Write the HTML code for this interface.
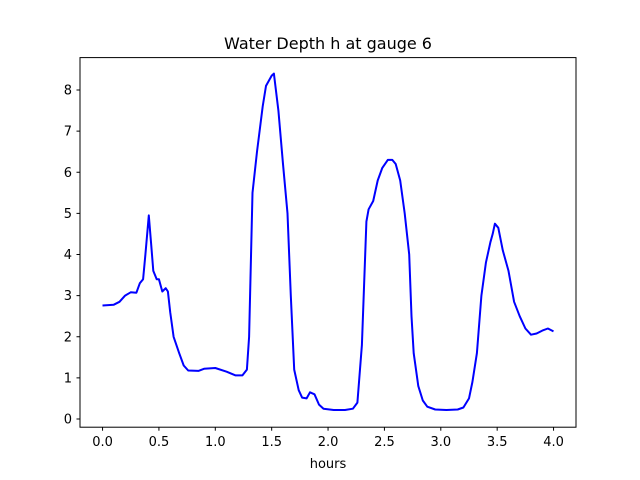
<!DOCTYPE html>
<html><head><meta charset="utf-8"><style>
body{margin:0;background:#fff;}
svg{display:block;font-family:"DejaVu Sans","Liberation Sans",sans-serif;}
</style></head><body>
<svg id="chart" width="640" height="480" viewBox="0 0 640 480">
<rect x="0" y="0" width="640" height="480" fill="#fff"/>
<text x="328" y="49" text-anchor="middle" font-size="16">Water Depth h at gauge 6</text>
<text x="328" y="468" text-anchor="middle" font-size="13">hours</text>
<g id="ticks"></g>
<path id="line" fill="none" stroke="#0000ff" stroke-width="2" stroke-linejoin="round"/>
<rect x="80" y="57.6" width="496" height="369.6" fill="none" stroke="#000" stroke-width="1"/>
</svg>
<script>
const times=[0.0,0.1,0.15,0.2,0.25,0.3,0.33,0.36,0.38,0.41,0.43,0.45,0.48,0.5,0.53,0.56,0.58,0.6,0.63,0.68,0.72,0.76,0.85,0.9,1.0,1.1,1.18,1.24,1.28,1.3,1.33,1.37,1.42,1.45,1.5,1.52,1.56,1.6,1.64,1.67,1.7,1.74,1.77,1.81,1.84,1.88,1.92,1.96,2.05,2.15,2.22,2.26,2.3,2.34,2.36,2.4,2.44,2.48,2.53,2.57,2.6,2.64,2.68,2.72,2.74,2.76,2.8,2.84,2.88,2.95,3.05,3.15,3.2,3.25,3.28,3.32,3.36,3.4,3.44,3.46,3.48,3.51,3.55,3.6,3.65,3.7,3.75,3.8,3.85,3.9,3.95,4.0];
const depths=[2.76,2.78,2.85,3.0,3.08,3.07,3.3,3.4,4.0,4.95,4.3,3.6,3.4,3.4,3.1,3.18,3.1,2.6,2.0,1.6,1.3,1.18,1.17,1.22,1.24,1.15,1.06,1.06,1.2,2.0,5.5,6.5,7.6,8.1,8.35,8.4,7.5,6.2,5.0,3.0,1.2,0.7,0.52,0.5,0.65,0.6,0.35,0.25,0.22,0.22,0.25,0.4,1.8,4.8,5.1,5.3,5.8,6.1,6.3,6.3,6.2,5.8,5.0,4.0,2.5,1.6,0.8,0.45,0.3,0.23,0.22,0.23,0.28,0.5,0.9,1.6,3.0,3.8,4.3,4.5,4.75,4.65,4.1,3.6,2.85,2.5,2.2,2.05,2.08,2.15,2.2,2.13];
const xTicks=[0.0,0.5,1.0,1.5,2.0,2.5,3.0,3.5,4.0];
const xTickLabels=["0.0","0.5","1.0","1.5","2.0","2.5","3.0","3.5","4.0"];
const yTicks=[0,1,2,3,4,5,6,7,8];
const yTickLabels=["0","1","2","3","4","5","6","7","8"];

const NS="http://www.w3.org/2000/svg";
function sx(t){return 80+(t+0.2)*112.75;}
function sy(v){return 419-v*41.125;}
const g=document.getElementById('ticks');
xTicks.forEach((t,i)=>{
  const l=document.createElementNS(NS,'line');
  l.setAttribute('x1',sx(t));l.setAttribute('x2',sx(t));l.setAttribute('y1',427.2);l.setAttribute('y2',430.7);l.setAttribute('stroke','#000');
  
  
  g.appendChild(l);
  const tx=document.createElementNS(NS,'text');
  tx.setAttribute('x',sx(t));tx.setAttribute('y',446);tx.setAttribute('text-anchor','middle');tx.setAttribute('font-size','13');
  tx.textContent=xTickLabels[i];
  
  
  g.appendChild(tx);
});
yTicks.forEach((v,i)=>{
  const l=document.createElementNS(NS,'line');
  l.setAttribute('x1',76.5);l.setAttribute('x2',80);l.setAttribute('y1',sy(v));l.setAttribute('y2',sy(v));l.setAttribute('stroke','#000');
  
  
  g.appendChild(l);
  const tx=document.createElementNS(NS,'text');
  tx.setAttribute('x',72);tx.setAttribute('y',sy(v)+4.5);tx.setAttribute('text-anchor','end');tx.setAttribute('font-size','13');
  tx.textContent=yTickLabels[i];
  
  
  g.appendChild(tx);
});
document.getElementById('line').setAttribute('d',times.map((t,i)=>(i?'L':'M')+sx(t).toFixed(1)+','+sy(depths[i]).toFixed(1)).join(''));
</script>
</body></html>
